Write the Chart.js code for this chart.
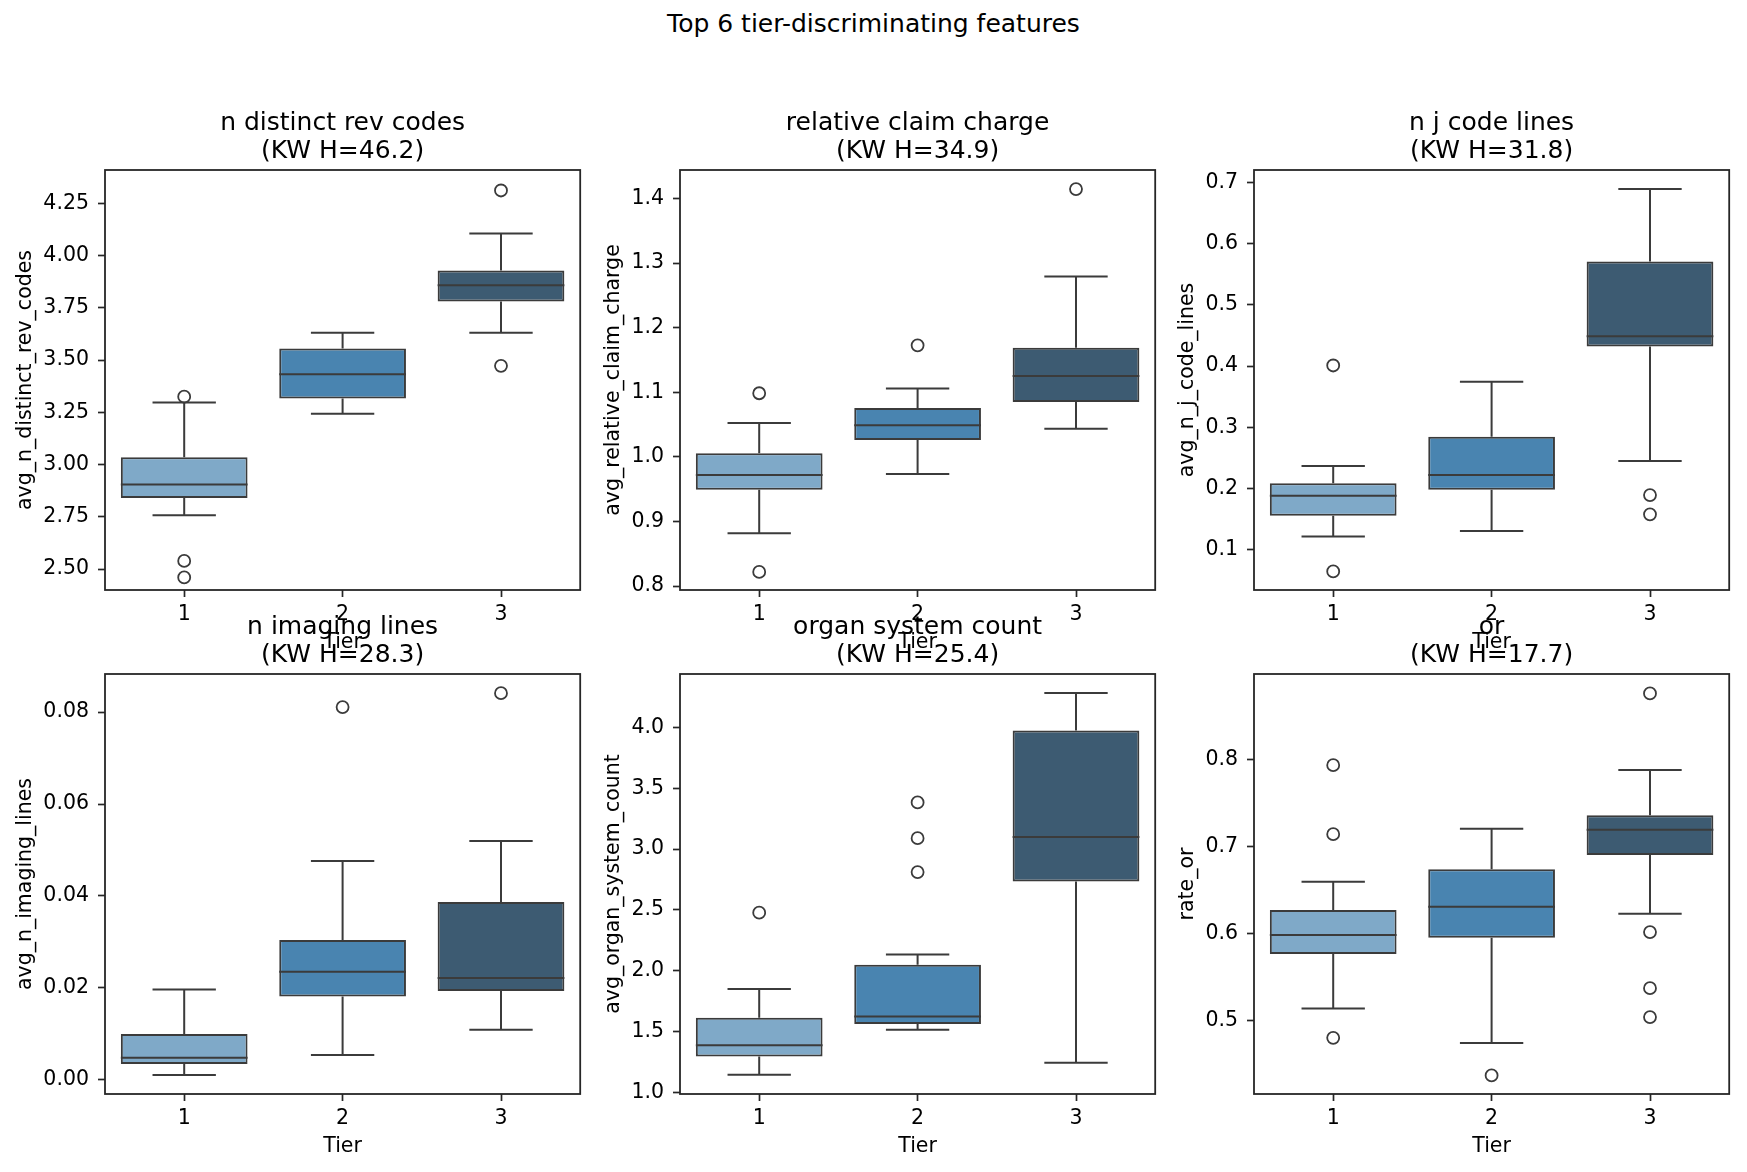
<!DOCTYPE html>
<html>
<head>
<meta charset="utf-8">
<script src="https://cdn.jsdelivr.net/npm/chart.js@4.4.0/dist/chart.umd.min.js"></script>
<style>
body { margin: 0; background: #fff; width: 1747px; height: 1172px; position: relative; overflow: hidden; font-family: "DejaVu Sans", sans-serif; }
#suptitle { position: absolute; left: 0; top: 10px; width: 1747px; text-align: center; font-size: 25px; line-height: 28px; color: #000; }
canvas { position: absolute; }
</style>
</head>
<body>
<div id="suptitle">Top 6 tier-discriminating features</div>
<script>
const tiers = ['1', '2', '3'];
const tierColors = ['#7fa9c8', '#4984b0', '#3d5b72'];

// per tier: [lower whisker, q1, median, q3, upper whisker]
const revBox = [[2.758, 2.840, 2.905, 3.035, 3.297], [3.243, 3.317, 3.432, 3.556, 3.631], [3.631, 3.781, 3.859, 3.929, 4.106]];
const revOut = [[3.325, 2.539, 2.46], [], [4.312, 3.473]];

const chargeBox = [[0.882, 0.949, 0.972, 1.0055, 1.0526], [0.9734, 1.026, 1.049, 1.0758, 1.1057], [1.0437, 1.085, 1.125, 1.169, 1.279]];
const chargeOut = [[1.0985, 0.822], [1.1727], [1.4145]];

const jcodeBox = [[0.1214, 0.1553, 0.188, 0.2084, 0.2365], [0.1301, 0.1979, 0.2218, 0.2843, 0.3743], [0.2446, 0.432, 0.449, 0.5711, 0.6897]];
const jcodeOut = [[0.401, 0.0641], [], [0.1891, 0.1576]];

const imagingBox = [[0.00103, 0.00342, 0.00477, 0.00993, 0.01962], [0.0054, 0.01811, 0.02351, 0.03043, 0.04758], [0.01088, 0.0193, 0.02216, 0.03869, 0.05196]];
const imagingOut = [[], [0.0811], [0.08413]];

const organBox = [[1.144, 1.294, 1.387, 1.6126, 1.850], [1.514, 1.562, 1.622, 2.048, 2.132], [1.243, 2.733, 3.099, 3.976, 4.285]];
const organOut = [[2.477], [3.384, 3.090, 2.811], []];

const orBox = [[0.514, 0.5769, 0.5987, 0.6273, 0.660], [0.4745, 0.5954, 0.631, 0.6743, 0.7209], [0.6231, 0.6906, 0.7196, 0.7364, 0.7884]];
const orOut = [[0.7939, 0.7146, 0.4804], [0.4372], [0.8765, 0.602, 0.5375, 0.5043]];

const titles = ['n distinct rev codes', 'relative claim charge', 'n j code lines', 'n imaging lines', 'organ system count', 'or'];
const kwH = [46.2, 34.9, 31.8, 28.3, 25.4, 17.7];
const yLabels = ['avg_n_distinct_rev_codes', 'avg_relative_claim_charge', 'avg_n_j_code_lines', 'avg_n_imaging_lines', 'avg_organ_system_count', 'rate_or'];
// y axis: [min, max, step, decimals]
const yAxes = [[2.40, 4.41, 0.25, 2], [0.794, 1.444, 0.1, 1], [0.0338, 0.7207, 0.1, 1], [-0.0031, 0.0883, 0.02, 2], [0.985, 4.441, 0.5, 1], [0.4158, 0.8988, 0.1, 1]];
const boxes = [revBox, chargeBox, jcodeBox, imagingBox, organBox, orBox];
const outliers = [revOut, chargeOut, jcodeOut, imagingOut, organOut, orOut];

// layout of the axes boxes
const axLeft = [105, 680, 1254];
const axTop = [170, 674];
const axW = 479;
const axH = [420, 420];
const yWidth = [92, 79, 79];
const topPad = 60, xHeight = 65, rightPad = 4;
const lineCol = '#3b3b3b';
const fontFam = '"DejaVu Sans", sans-serif';

const boxLines = {
    id: 'boxLines',
    beforeDatasetsDraw(chart) {
        const b = chart.options.plugins.boxLines.box;
        const x = chart.scales.x, y = chart.scales.y;
        const step = x.getPixelForValue(1) - x.getPixelForValue(0);
        const ctx = chart.ctx;
        ctx.save();
        ctx.strokeStyle = lineCol;
        ctx.lineWidth = 2;
        b.forEach((v, i) => {
            const cx = x.getPixelForValue(i);
            ctx.beginPath();
            ctx.moveTo(cx, y.getPixelForValue(v[0]));
            ctx.lineTo(cx, y.getPixelForValue(v[1]));
            ctx.moveTo(cx, y.getPixelForValue(v[3]));
            ctx.lineTo(cx, y.getPixelForValue(v[4]));
            [v[0], v[4]].forEach((w) => {
                const py = y.getPixelForValue(w);
                ctx.moveTo(cx - step * 0.2, py);
                ctx.lineTo(cx + step * 0.2, py);
            });
            ctx.stroke();
        });
        ctx.restore();
    },
    afterDatasetsDraw(chart) {
        const b = chart.options.plugins.boxLines.box;
        const x = chart.scales.x, y = chart.scales.y;
        const step = x.getPixelForValue(1) - x.getPixelForValue(0);
        const ctx = chart.ctx;
        ctx.save();
        ctx.strokeStyle = lineCol;
        ctx.lineWidth = 2;
        b.forEach((v, i) => {
            const cx = x.getPixelForValue(i);
            const py = y.getPixelForValue(v[2]);
            ctx.beginPath();
            ctx.moveTo(cx - step * 0.4, py);
            ctx.lineTo(cx + step * 0.4, py);
            ctx.stroke();
        });
        // axes frame and panel title
        const a = chart.chartArea;
        ctx.strokeStyle = '#262626';
        ctx.lineWidth = 1.8;
        ctx.strokeRect(a.left, a.top, a.right - a.left, a.bottom - a.top);
        const t = chart.options.plugins.boxLines.title;
        ctx.fillStyle = '#000';
        ctx.font = '25px ' + fontFam;
        ctx.textAlign = 'center';
        ctx.textBaseline = 'middle';
        const mid = (a.left + a.right) / 2;
        ctx.fillText(t[0], mid, a.top - 47);
        ctx.fillText(t[1], mid, a.top - 19);
        ctx.restore();
    }
};

for (let p = 0; p < 6; p++) {
    const col = p % 3, row = Math.floor(p / 3);
    const yw = yWidth[col];
    const canvas = document.createElement('canvas');
    const w = yw + axW + rightPad;
    const h = topPad + axH[row] + xHeight;
    canvas.width = w;
    canvas.height = h;
    canvas.style.left = (axLeft[col] - yw) + 'px';
    canvas.style.top = (axTop[row] - topPad) + 'px';
    document.body.appendChild(canvas);

    const b = boxes[p];
    const ya = yAxes[p];
    const pts = [];
    outliers[p].forEach((list, i) => list.forEach((v) => pts.push({ x: tiers[i], y: v })));

    new Chart(canvas, {
        type: 'bar',
        data: {
            labels: tiers,
            datasets: [{
                type: 'scatter',
                data: pts,
                showLine: false,
                pointRadius: 6,
                pointHoverRadius: 6,
                pointBorderWidth: 1.8,
                pointBackgroundColor: 'rgba(0,0,0,0)',
                pointBorderColor: lineCol
            }, {
                data: b.map((v) => [v[1], v[3]]),
                backgroundColor: tierColors,
                borderColor: lineCol,
                borderWidth: 2,
                borderSkipped: false,
                categoryPercentage: 1.0,
                barPercentage: 0.8,
                grouped: false
            }]
        },
        options: {
            responsive: false,
            animation: false,
            devicePixelRatio: 1,
            layout: { padding: { top: topPad, right: rightPad, bottom: 0, left: 0 } },
            plugins: {
                legend: { display: false },
                tooltip: { enabled: false },
                boxLines: { box: b, title: [titles[p], '(KW H=' + kwH[p].toFixed(1) + ')'] }
            },
            scales: {
                x: {
                    type: 'category',
                    offset: true,
                    grid: { display: true, offset: false, drawOnChartArea: false, drawTicks: true, tickLength: 7, tickWidth: 1.7, tickColor: '#262626' },
                    border: { display: false },
                    ticks: { color: '#000', padding: 5, font: { family: fontFam, size: 20.5 } },
                    title: { display: true, text: 'Tier', color: '#000', padding: 0, font: { family: fontFam, size: 20.5 } },
                    afterFit: (s) => { s.height = xHeight; }
                },
                y: {
                    type: 'linear',
                    min: ya[0],
                    max: ya[1],
                    grid: { display: true, drawOnChartArea: false, drawTicks: true, tickLength: 7, tickWidth: 1.7, tickColor: '#262626' },
                    border: { display: false },
                    ticks: {
                        stepSize: ya[2],
                        includeBounds: false,
                        color: '#000',
                        padding: 9,
                        font: { family: fontFam, size: 20.5 },
                        callback: (v) => Number(v).toFixed(ya[3])
                    },
                    title: { display: true, text: yLabels[p], color: '#000', padding: 0, font: { family: fontFam, size: 20.5 } },
                    afterFit: (s) => { s.width = yw; }
                }
            }
        },
        plugins: [boxLines]
    });
}
</script>
</body>
</html>
